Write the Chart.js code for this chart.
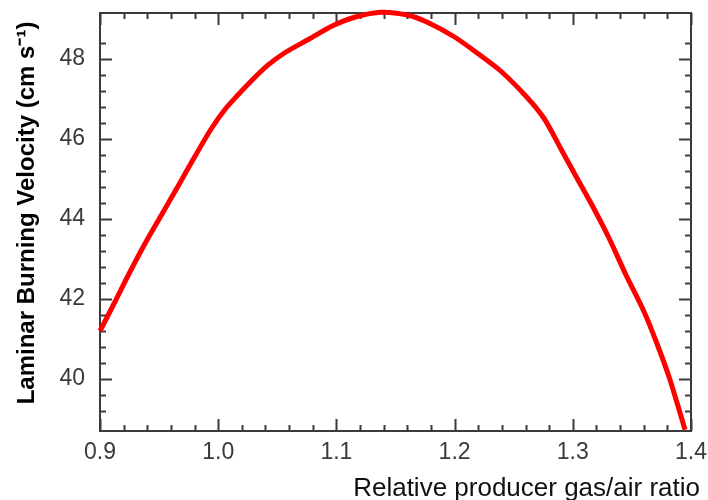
<!DOCTYPE html>
<html>
<head>
<meta charset="utf-8">
<script src="https://cdn.jsdelivr.net/npm/chart.js@4.4.1/dist/chart.umd.min.js"></script>
<style>
  html, body { margin: 0; padding: 0; background: #fff; }
  #wrap { width: 708px; height: 500px; }
</style>
</head>
<body>
<div id="wrap"><canvas id="grafico"></canvas></div>
<script>
// Velocidad de combustión laminar vs relación gas pobre/aire
const ratio = [0.900, 0.913, 0.924, 0.938, 0.952, 0.966, 0.980, 0.994, 1.006, 1.016,
  1.028, 1.041, 1.056, 1.077, 1.096, 1.116, 1.138, 1.160, 1.177, 1.200,
  1.220, 1.239, 1.261, 1.276, 1.290, 1.303, 1.318, 1.331, 1.345, 1.360,
  1.371, 1.382, 1.395];
const velocidad = [41.20, 41.95, 42.60, 43.38, 44.10, 44.82, 45.55, 46.25, 46.75, 47.08,
  47.45, 47.82, 48.15, 48.50, 48.82, 49.05, 49.17, 49.10, 48.92, 48.55,
  48.13, 47.70, 47.05, 46.50, 45.75, 45.05, 44.25, 43.50, 42.60, 41.70,
  40.90, 40.00, 38.73];

const xEtiquetas = [0.9, 1.0, 1.1, 1.2, 1.3, 1.4];
const yEtiquetas = [40, 42, 44, 46, 48];

const TITULO_X = "Relative producer gas/air ratio";
const TITULO_Y = "Laminar Burning Velocity (cm s\u207B\u00B9)";

const COLOR_EJE = "#3a3a3a";
const FUENTE = "'Liberation Sans', Arial, sans-serif";

function esMarca(lista, v) {
  return lista.some(m => Math.abs(m - v) < 1e-6);
}

// marcas hacia adentro en los cuatro lados + marco + títulos de ejes
const marcasInternas = {
  id: "marcasInternas",
  beforeDatasetsDraw(chart) {
    const { ctx, chartArea: a, scales: { x, y } } = chart;
    ctx.save();
    ctx.strokeStyle = COLOR_EJE;
    ctx.lineWidth = 2;
    ctx.beginPath();
    x.ticks.forEach(t => {
      const px = Math.round(x.getPixelForValue(t.value)) + 0.5;
      const largo = esMarca(xEtiquetas, t.value) ? 12 : 6;
      ctx.moveTo(px, a.bottom); ctx.lineTo(px, a.bottom - largo);
      ctx.moveTo(px, a.top); ctx.lineTo(px, a.top + largo);
    });
    y.ticks.forEach(t => {
      if (t.value === y.min || t.value === y.max) return;
      const py = Math.round(y.getPixelForValue(t.value)) + 0.5;
      const largo = esMarca(yEtiquetas, t.value) ? 12 : 6;
      ctx.moveTo(a.left, py); ctx.lineTo(a.left + largo, py);
      ctx.moveTo(a.right, py); ctx.lineTo(a.right - largo, py);
    });
    ctx.stroke();
    ctx.strokeRect(a.left, a.top, a.right - a.left, a.bottom - a.top);
    ctx.restore();
  },
  afterDraw(chart) {
    const { ctx } = chart;
    ctx.save();
    // el título x sobresale del área por la derecha, como en el original
    ctx.fillStyle = "#111";
    ctx.font = "26px " + FUENTE;
    ctx.textAlign = "right";
    ctx.textBaseline = "alphabetic";
    ctx.fillText(TITULO_X, 700, 496);
    // título y, rotado
    ctx.fillStyle = "#000";
    ctx.font = "bold 24px " + FUENTE;
    ctx.textAlign = "center";
    ctx.textBaseline = "middle";
    ctx.translate(27, 213);
    ctx.rotate(-Math.PI / 2);
    ctx.fillText(TITULO_Y, 0, 0);
    ctx.restore();
  },
};

new Chart(document.getElementById("grafico"), {
  type: "scatter",
  data: {
    datasets: [{
      data: ratio.map((r, i) => ({ x: r, y: velocidad[i] })),
      showLine: true,
      borderColor: "#ff0000",
      borderWidth: 5,
      pointRadius: 0,
      tension: 0.25,
      clip: false,
    }],
  },
  options: {
    responsive: true,
    maintainAspectRatio: false,
    animation: false,
    layout: { padding: { top: 13, right: 17, left: 0, bottom: 0 } },
    plugins: { legend: { display: false }, tooltip: { enabled: false } },
    scales: {
      x: {
        type: "linear",
        min: 0.9,
        max: 1.4,
        grid: { display: false, drawTicks: false },
        border: { display: false },
        afterFit(scale) {
          scale.height = 69;
          scale.paddingLeft = 0;
          scale.paddingRight = 0;
        },
        ticks: {
          stepSize: 0.02,
          autoSkip: false,
          maxRotation: 0,
          padding: 8,
          color: "#3a3a3a",
          font: { family: FUENTE, size: 23 },
          callback: v => esMarca(xEtiquetas, v) ? v.toFixed(1) : "",
        },
      },
      y: {
        min: 38.7,
        max: 49.15,
        grid: { display: false, drawTicks: false },
        border: { display: false },
        afterFit(scale) {
          scale.width = 100;
          scale.paddingTop = 0;
          scale.paddingBottom = 0;
        },
        ticks: {
          stepSize: 0.4,
          autoSkip: false,
          padding: 15,
          color: "#3a3a3a",
          font: { family: FUENTE, size: 23 },
          callback: v => esMarca(yEtiquetas, v) ? String(Math.round(v)) : "",
        },
      },
    },
  },
  plugins: [marcasInternas],
});
</script>
</body>
</html>
